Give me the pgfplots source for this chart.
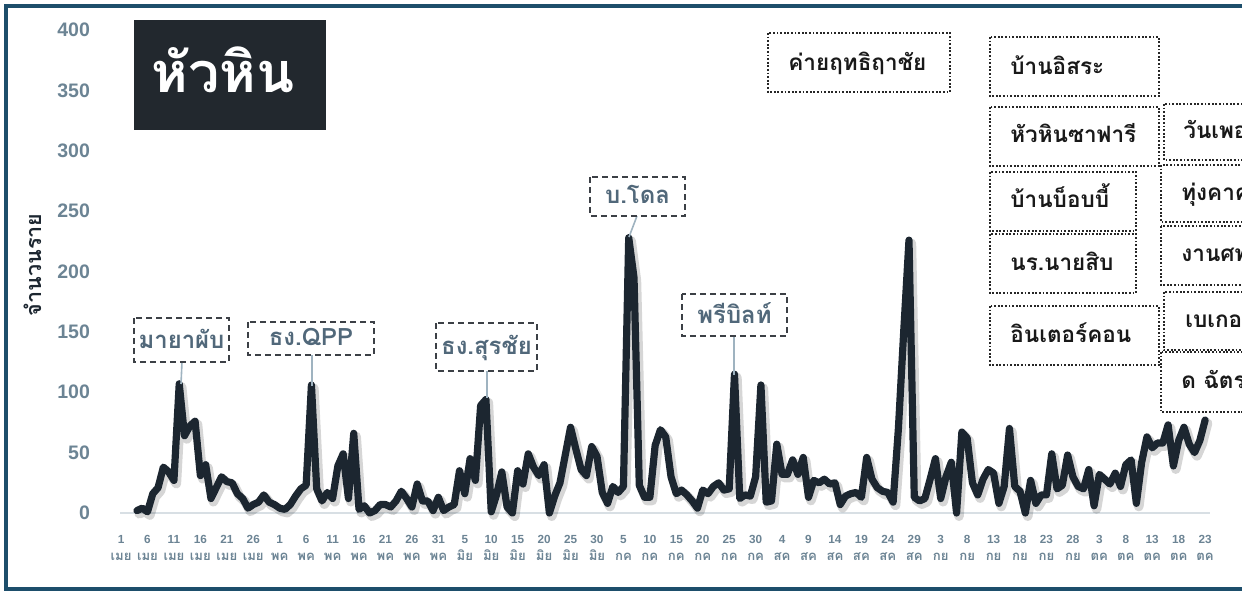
\documentclass[border=0pt]{standalone}
\usepackage{pgfplots}
\usepackage{pgfplotstable}
\pgfplotsset{compat=1.18}
\usepackage{fontspec}
\setmainfont{Liberation Sans}
\newfontfamily\thaifont[Script=Thai]{Loma}
\definecolor{linec}{HTML}{1C2630}
\definecolor{titlebg}{HTML}{22282E}
\definecolor{tickc}{HTML}{6C8494}
\definecolor{callc}{HTML}{51687A}
\definecolor{dashc}{HTML}{3C4046}
\definecolor{connc}{HTML}{9FB3C0}
\definecolor{framec}{HTML}{1D4E6B}
\definecolor{basec}{HTML}{D8DFE4}
\newcommand{\mth}[1]{{\thaifont\fontsize{6.6}{8.5}\selectfont #1}}

\pgfplotstableread{
d v
3 2
4 4
5 1
6 16
7 21
8 38
9 34
10 27
11 107
12 64
13 72
14 76
15 31
16 40
17 12
18 21
19 30
20 26
21 25
22 16
23 12
24 4
25 7
26 9
27 15
28 9
29 7
30 4
31 3
32 7
33 14
34 20
35 23
36 106
37 20
38 10
39 17
40 12
41 39
42 49
43 12
44 66
45 3
46 6
47 0
48 2
49 7
50 7
51 5
52 10
53 18
54 12
55 5
56 24
57 10
58 10
59 2
60 13
61 2
62 5
63 7
64 35
65 16
66 45
67 27
68 89
69 94
70 1
71 15
72 34
73 5
74 0
75 35
76 24
77 49
78 38
79 31
80 40
81 0
82 14
83 25
84 48
85 71
86 53
87 36
88 31
89 55
90 47
91 17
92 8
93 22
94 17
95 22
96 228
97 195
98 23
99 13
100 13
101 56
102 69
103 63
104 30
105 16
106 19
107 15
108 10
109 4
110 19
111 16
112 22
113 25
114 19
115 20
116 115
117 12
118 15
119 14
120 30
121 106
122 9
123 10
124 57
125 32
126 32
127 44
128 32
129 46
130 13
131 27
132 25
133 28
134 24
135 25
136 7
137 14
138 16
139 17
140 13
141 46
142 28
143 21
144 18
145 17
146 9
147 70
148 150
149 226
150 13
151 10
152 12
153 28
154 45
155 12
156 30
157 42
158 0
159 67
160 62
161 25
162 15
163 28
164 36
165 33
166 8
167 22
168 70
169 22
170 18
171 0
172 27
173 8
174 15
175 15
176 49
177 20
178 23
179 48
180 30
181 22
182 20
183 36
184 6
185 32
186 28
187 24
188 33
189 22
190 40
191 44
192 8
193 42
194 63
195 54
196 58
197 58
198 73
199 39
200 60
201 71
202 57
203 50
204 60
205 77
}\cases

\begin{document}
\begin{tikzpicture}
\useasboundingbox (0,0) rectangle (621bp,-296bp);
\clip (0,0) rectangle (621bp,-296bp);
\begin{axis}[
  at={(60bp,-256.5bp)}, anchor=south west,
  scale only axis, width=545.2bp, height=241.5bp,
  xmin=-0.2, xmax=206, ymin=0, ymax=400,
  enlargelimits=false, clip=false,
  axis line style={draw=none}, tick style={draw=none},
  major tick length=0pt,
  ytick={0,50,...,400},
  /pgf/number format/assume math mode=true,
  yticklabel style={font=\fontsize{9.8}{11}\selectfont\bfseries, text=tickc, xshift=-11.5bp},
  xtick={0,5,...,205},
  xticklabels={{1\\\mth{เมย}},{6\\\mth{เมย}},{11\\\mth{เมย}},{16\\\mth{เมย}},{21\\\mth{เมย}},{26\\\mth{เมย}},
  {1\\\mth{พค}},{6\\\mth{พค}},{11\\\mth{พค}},{16\\\mth{พค}},{21\\\mth{พค}},{26\\\mth{พค}},{31\\\mth{พค}},
  {5\\\mth{มิย}},{10\\\mth{มิย}},{15\\\mth{มิย}},{20\\\mth{มิย}},{25\\\mth{มิย}},{30\\\mth{มิย}},
  {5\\\mth{กค}},{10\\\mth{กค}},{15\\\mth{กค}},{20\\\mth{กค}},{25\\\mth{กค}},{30\\\mth{กค}},
  {4\\\mth{สค}},{9\\\mth{สค}},{14\\\mth{สค}},{19\\\mth{สค}},{24\\\mth{สค}},{29\\\mth{สค}},
  {3\\\mth{กย}},{8\\\mth{กย}},{13\\\mth{กย}},{18\\\mth{กย}},{23\\\mth{กย}},{28\\\mth{กย}},
  {3\\\mth{ตค}},{8\\\mth{ตค}},{13\\\mth{ตค}},{18\\\mth{ตค}},{23\\\mth{ตค}}},
  xticklabel style={align=center, font=\fontsize{5.9}{8.6}\selectfont\bfseries, text=tickc, yshift=-7.5bp},
]
\draw[basec, line width=1.3bp] (axis cs:-0.2,0) -- (axis cs:206,0);
\addplot[draw=black, opacity=0.16, line width=4.8bp, line join=round, line cap=round, xshift=1.2bp, yshift=-1.6bp] table[x=d,y=v] {\cases};
\addplot[draw=linec, line width=3.6bp, line join=round, line cap=round] table[x=d,y=v] {\cases};
\end{axis}
\begin{scope}[x=0.5bp,y=-0.5bp]
% frame
\draw[framec, line width=1.6bp] (6,6) rectangle (1300,589);
% title
\fill[titlebg] (134,20) rectangle (326,130);
\node[anchor=base, text=white, font=\thaifont\bfseries\fontsize{28}{30}\selectfont, inner sep=0] at (223,93) {หัวหิน};
% y label
\node[anchor=base, rotate=90, text=linec, font=\thaifont\bfseries\fontsize{10.8}{12}\selectfont, inner sep=0] at (41,265) {จำนวนราย};
% callouts
\tikzset{callbox/.style={draw=dashc, line width=1bp, dash pattern=on 3bp off 2bp},
  calltext/.style={anchor=base, text=callc, font=\thaifont\bfseries\fontsize{12}{14}\selectfont, inner sep=0},
  conn/.style={draw=connc, line width=0.8bp}}
\draw[conn] (182,362) -- (181,384);
\draw[callbox] (134,318) rectangle (229,362);
\node[calltext] at (181.5,349) {มายาผับ};
\draw[conn] (312,355) -- (312,386);
\draw[callbox] (248,322) rectangle (374,355);
\node[calltext] at (311,346) {ธง.QPP};
\draw[conn] (487,371) -- (487,398);
\draw[callbox] (436,323) rectangle (537,371);
\node[calltext] at (486.5,355) {ธง.สุรชัย};
\draw[conn] (637,216) -- (629,237);
\draw[callbox] (590,177) rectangle (685,216);
\node[calltext] at (637.5,204) {บ.โดล};
\draw[conn] (734,336) -- (734,375);
\draw[callbox] (682,294) rectangle (787,336);
\node[calltext] at (734.5,324) {พรีบิลท์};
% dotted boxes
\tikzset{dotbox/.style={draw=black!85, line width=1bp, dash pattern=on 0.9bp off 0.9bp},
  dottext/.style={anchor=base west, text=black!90, font=\thaifont\bfseries\fontsize{11.3}{13}\selectfont, inner sep=0}}
\draw[dotbox] (768,33) rectangle (950,92);
\node[dottext] at (788,71) {ค่ายฤทธิฤาชัย};
\draw[dotbox] (990,37) rectangle (1159,96);
\node[dottext] at (1010,75) {บ้านอิสระ};
\draw[dotbox] (990,107) rectangle (1159,166);
\node[dottext] at (1010,143) {หัวหินซาฟารี};
\draw[dotbox] (990,172) rectangle (1136,231);
\node[dottext] at (1010,208) {บ้านบ็อบบี้};
\draw[dotbox] (990,234) rectangle (1136,293);
\node[dottext] at (1010,271) {นร.นายสิบ};
\draw[dotbox] (990,306) rectangle (1159,365);
\node[dottext] at (1010,343) {อินเตอร์คอน};
\draw[dotbox] (1164,104) rectangle (1320,160);
\node[dottext] at (1183,139) {วันเพอ};
\draw[dotbox] (1161,165) rectangle (1320,222);
\node[dottext] at (1181,201) {ทุ่งคาค};
\draw[dotbox] (1161,226) rectangle (1320,285);
\node[dottext] at (1181,262) {งานศพ};
\draw[dotbox] (1164,292) rectangle (1320,350);
\node[dottext] at (1185,328) {เบเกอ};
\draw[dotbox] (1161,352) rectangle (1320,412);
\node[dottext] at (1181,389) {ด ฉัตร};
\end{scope}
\end{tikzpicture}
\end{document}
